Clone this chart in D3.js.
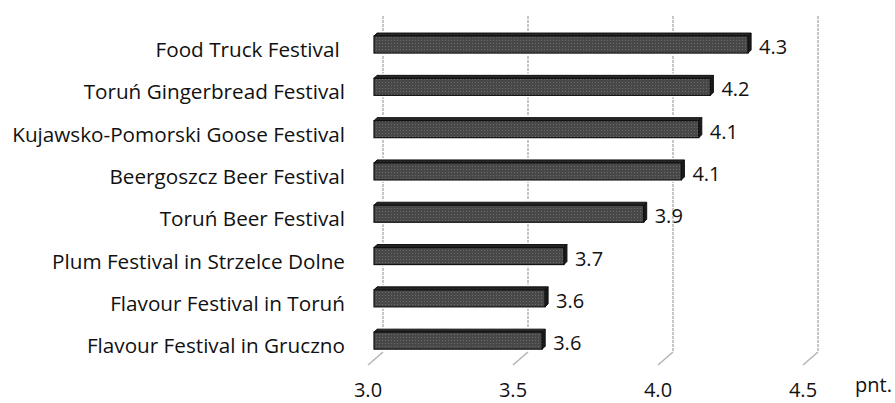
<!DOCTYPE html>
<html>
<head>
<meta charset="utf-8">
<script src="https://cdn.jsdelivr.net/npm/d3@7"></script>
<style>
  body { margin: 0; background: #fff; }
  text { font-family: "Open Sans", "Noto Sans", sans-serif; fill: #111; }
</style>
</head>
<body>
<svg id="svg" width="895" height="403"></svg>
<script>
const WIDTH = 895
const HEIGHT = 403

const categories = [
  'Food Truck Festival ',
  'Toruń Gingerbread Festival',
  'Kujawsko-Pomorski Goose Festival',
  'Beergoszcz Beer Festival',
  'Toruń Beer Festival',
  'Plum Festival in Strzelce Dolne',
  'Flavour Festival in Toruń',
  'Flavour Festival in Gruczno'
]
const values = [4.29, 4.16, 4.12, 4.06, 3.93, 3.655, 3.59, 3.58]
const valueLabels = ['4.3', '4.2', '4.1', '4.1', '3.9', '3.7', '3.6', '3.6']
const ticks = [3.0, 3.5, 4.0, 4.5]
const unit = 'pnt.'

// 3D look: back wall, bar plane and floor front edge are offset
const xBack = d3.scaleLinear().domain([3, 4.5]).range([383, 818])
const xBar = d3.scaleLinear().domain([3, 4.5]).range([374, 809])
const xFloor = d3.scaleLinear().domain([3, 4.5]).range([368, 803])
const y = d3.scaleBand()
  .domain(categories)
  .range([21.9, 360.3])
  .paddingInner(0.527)
  .paddingOuter(0.2635)

const WALL_TOP = 16
const WALL_BOTTOM = 352
const FLOOR_FRONT = 365
const BEVEL = 3

const SVG = d3.select('#svg')

const defs = SVG.append('defs')
const pat = defs.append('pattern')
  .attr('id', 'dots')
  .attr('width', 3)
  .attr('height', 3)
  .attr('patternUnits', 'userSpaceOnUse')
pat.append('rect').attr('width', 3).attr('height', 3).attr('fill', '#484848')
pat.append('rect').attr('x', 1).attr('y', 1).attr('width', 1).attr('height', 1).attr('fill', '#6c6c6c')

// gridlines on the back wall plus floor segments
const GRID = SVG.append('g')
GRID.selectAll('line.wall')
  .data(ticks)
  .enter()
  .append('line')
  .attr('class', 'wall')
  .attr('x1', d => xBack(d))
  .attr('x2', d => xBack(d))
  .attr('y1', WALL_TOP)
  .attr('y2', WALL_BOTTOM)
  .attr('stroke', '#a8a8a8')
  .attr('stroke-width', 1.3)
  .attr('stroke-dasharray', '3,1')

GRID.selectAll('line.floor')
  .data(ticks)
  .enter()
  .append('line')
  .attr('class', 'floor')
  .attr('x1', d => xBack(d))
  .attr('x2', d => xFloor(d))
  .attr('y1', WALL_BOTTOM)
  .attr('y2', FLOOR_FRONT)
  .attr('stroke', '#b4b4b4')
  .attr('stroke-width', 1.5)

// bars
const BARS = SVG.selectAll('g.bar')
  .data(values)
  .enter()
  .append('g')
  .attr('class', 'bar')

BARS.each(function (d, i) {
  const g = d3.select(this)
  const x0 = xBar(3)
  const x1 = xBar(d)
  const top = y(categories[i])
  const bottom = top + y.bandwidth()

  g.append('rect')
    .attr('x', x0 - 1)
    .attr('y', top - 2)
    .attr('width', x1 - x0 + BEVEL + 2)
    .attr('height', bottom - top + 4)
    .attr('fill', '#fff')

  g.append('path')
    .attr('d', `M${x0},${top + BEVEL} L${x0 + BEVEL},${top} L${x1 + BEVEL},${top} L${x1},${top + BEVEL} Z`)
    .attr('fill', '#262626')
    .attr('stroke', '#111')
    .attr('stroke-width', 1)

  g.append('rect')
    .attr('x', x0)
    .attr('y', top + BEVEL)
    .attr('width', x1 - x0)
    .attr('height', bottom - top - BEVEL)
    .attr('fill', 'url(#dots)')
    .attr('stroke', '#111')
    .attr('stroke-width', 1.2)

  g.append('path')
    .attr('d', `M${x1},${top + BEVEL} L${x1 + BEVEL},${top} L${x1 + BEVEL},${bottom - BEVEL} L${x1},${bottom} Z`)
    .attr('fill', '#1a1a1a')
    .attr('stroke', '#111')
    .attr('stroke-width', 1)
})

// value labels
SVG.selectAll('text.value')
  .data(values)
  .enter()
  .append('text')
  .attr('class', 'value')
  .text((d, i) => valueLabels[i])
  .attr('x', d => xBar(d) + 11)
  .attr('y', (d, i) => y(categories[i]) + y.bandwidth() / 2 + 11)
  .attr('font-size', 20)

// category labels, sized so the longest one fills the space left of the bars
const CAT = SVG.selectAll('text.cat')
  .data(categories)
  .enter()
  .append('text')
  .attr('class', 'cat')
  .text(d => d)
  .attr('x', 345)
  .attr('y', d => y(d) + y.bandwidth() / 2 + 14)
  .attr('text-anchor', 'end')
  .attr('font-size', 19)
  .style('white-space', 'pre')

const longest = d3.max(CAT.nodes(), n => n.getComputedTextLength())
CAT.attr('font-size', 19 * 333 / longest)

// tick labels
SVG.selectAll('text.tick')
  .data(ticks)
  .enter()
  .append('text')
  .attr('class', 'tick')
  .text(d => d3.format('.1f')(d))
  .attr('x', d => xFloor(d))
  .attr('y', 397)
  .attr('text-anchor', 'middle')
  .attr('font-size', 20)

SVG.append('text')
  .text(unit)
  .attr('x', 855)
  .attr('y', 392)
  .attr('font-size', 20)
</script>
</body>
</html>
